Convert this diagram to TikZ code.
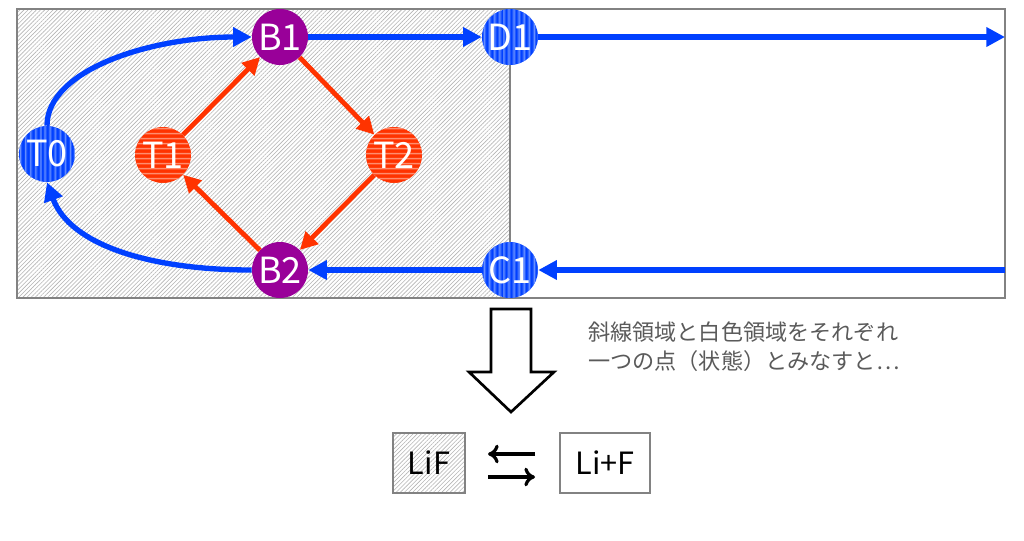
\documentclass[tikz,border=0pt]{standalone}
\usepackage{fontspec}
\setmainfont{Noto Sans CJK JP}
\usetikzlibrary{arrows.meta,patterns.meta}
\definecolor{cblue}{RGB}{0,64,255}
\definecolor{cbluel}{RGB}{110,150,255}
\definecolor{cred}{RGB}{255,51,0}
\definecolor{credl}{RGB}{255,140,110}
\definecolor{cpurp}{RGB}{153,0,153}
\definecolor{hatchgray}{RGB}{180,180,180}
\definecolor{framegray}{RGB}{130,130,130}
\definecolor{textgray}{RGB}{90,90,90}
\tikzset{
  statenode/.style={circle,minimum size=56*0.75pt,inner sep=0pt,text=white,font=\fontsize{27}{27}\selectfont},
  bluenode/.style={statenode,fill=cblue,postaction={pattern={Lines[angle=90,distance=4pt,line width=1.4pt]},pattern color=cbluel}},
  rednode/.style={statenode,fill=cred,postaction={pattern={Lines[angle=0,distance=4pt,line width=1.4pt]},pattern color=credl}},
  purpnode/.style={statenode,fill=cpurp},
  bluearr/.style={draw=cblue,line width=4pt,-{Triangle[length=14pt,width=14pt]}},
  redarr/.style={draw=cred,line width=3.6pt,-{Triangle[length=13pt,width=13pt]}},
  hatch/.style={pattern={Lines[angle=45,distance=2.2pt,line width=0.45pt]},pattern color=hatchgray},
  statebox/.style={draw=framegray,line width=1pt,inner sep=0pt,font=\fontsize{23}{23}\selectfont},
  eqarr/.style={line width=2.4pt,-{To[length=8pt,width=14pt]}}
}
\begin{document}
\begin{tikzpicture}[x=0.75pt,y=-0.75pt]
\useasboundingbox (0,0) rectangle (1024,540);
% regions
\fill[white] (17,9) rectangle (1005,298);
\path[hatch] (17,9) rectangle (510,298);
\draw[framegray,line width=1pt] (17,9) rectangle (1005,298);
\draw[framegray,line width=1pt] (510,9) -- (510,298);
% coordinates for free ends
\coordinate (dend) at (1005,37);
\coordinate (cstart) at (1005,270);
% nodes
\node[bluenode] (T0) at (47,154) {T0};
\node[rednode] (T1) at (163,155) {T1};
\node[rednode] (T2) at (394,155) {T2};
\node[purpnode] (B1) at (280,37) {B1};
\node[purpnode] (B2) at (280,270) {B2};
\node[bluenode] (D1) at (510,37) {D1};
\node[bluenode] (C1) at (510,270) {C1};
% blue arrows
\draw[bluearr] (T0.north) .. controls (47,70) and (150,37) .. (B1.west);
\draw[bluearr] (B2.west) .. controls (150,270) and (70,245) .. (T0.south);
\draw[bluearr] (B1) -- (D1);
\draw[bluearr] (C1) -- (B2);
\draw[bluearr] (D1.east) -- (dend);
\draw[bluearr] (cstart) -- (C1.east);
% red arrows
\draw[redarr] (T1) -- (B1);
\draw[redarr] (B1) -- (T2);
\draw[redarr] (T2) -- (B2);
\draw[redarr] (B2) -- (T1);
% hollow down arrow
\draw[line width=2pt,fill=white,line join=miter] (491,309) -- (531,309) -- (531,372) -- (554,372) -- (511,412) -- (469,372) -- (491,372) -- cycle;
% explanatory text
\node[anchor=west,text=textgray,font=\fontsize{16.6}{22}\selectfont,align=left,inner sep=0pt] (note) at (588,347) {斜線領域と白色領域をそれぞれ\\一つの点（状態）とみなすと…};
% state boxes
\node[statebox,hatch,minimum width=72*0.75pt,minimum height=60*0.75pt] (LiF) at (429,463) {};
\node[font=\fontsize{23}{23}\selectfont] at (LiF) {LiF};
\node[statebox,fill=white,minimum width=90*0.75pt,minimum height=60*0.75pt] (LiFsep) at (605,463) {Li+F};
\coordinate (aL) at (488,454);
\coordinate (aR) at (535,454);
\coordinate (bL) at (488,477);
\coordinate (bR) at (535,477);
\draw[eqarr] (aR) -- (aL);
\draw[eqarr] (bL) -- (bR);
\end{tikzpicture}
\end{document}
